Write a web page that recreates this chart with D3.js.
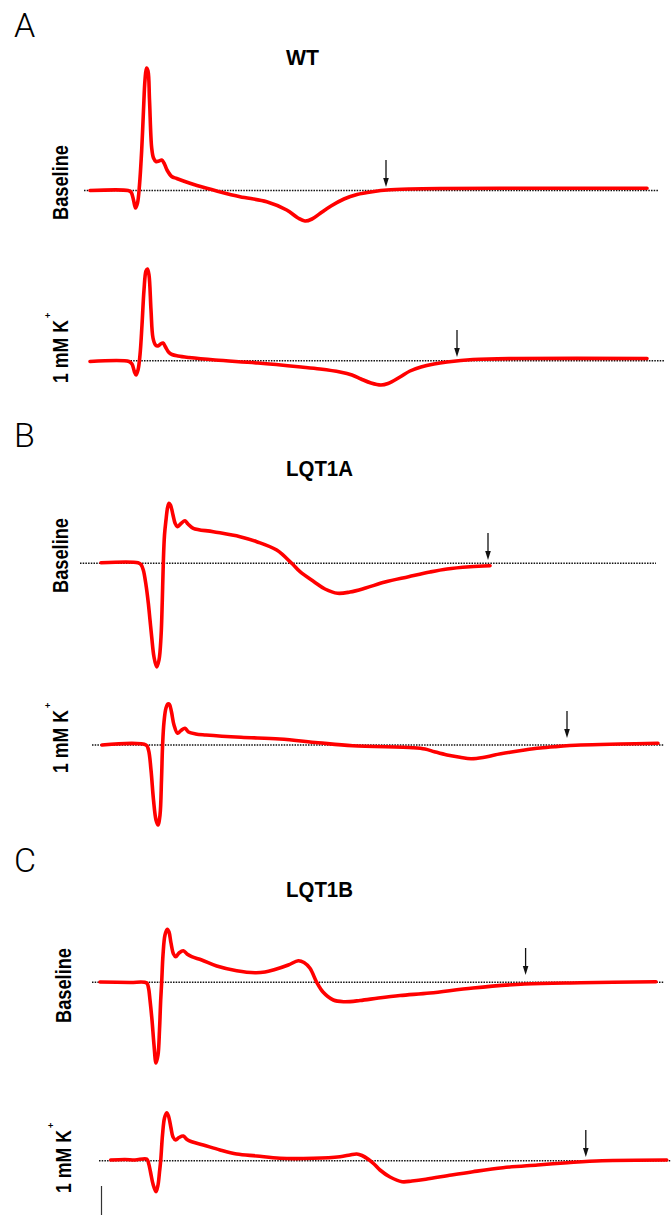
<!DOCTYPE html>
<html>
<head>
<meta charset="utf-8">
<script src="https://cdn.jsdelivr.net/npm/d3@7"></script>
<style>
  body { margin: 0; background: #fff; }
  svg { display: block; }
  .side { font-family: "Liberation Sans", Arial, sans-serif; font-weight: bold; }
  .title { font-family: "Liberation Sans", Arial, sans-serif; font-weight: bold; font-size: 22px; }
  .letter { font-family: Roboto, "Liberation Sans", sans-serif; font-weight: 300; font-size: 34px; }
</style>
</head>
<body>
<div id="chart"></div>
<script>
// traces: [time ms, amplitude mV]
const wtBaseline = [[0,0],[38,0],[41,-0.015],[43.5,-0.095],[45.5,-0.175],[47.5,-0.125],[49.5,0.055],[51.7,0.405],[53.5,0.805],[55,1.105],[56.5,1.225],[58,1.195],[59.5,0.905],[61.7,0.425],[63.5,0.325],[66,0.29],[69,0.295],[71.7,0.305],[74,0.275],[77,0.205],[81.7,0.14],[86.7,0.12],[100,0.072],[116.7,0.022],[126.7,-0.005],[150,-0.062],[176.7,-0.112],[196.7,-0.195],[208,-0.275],[215,-0.305],[222,-0.285],[230,-0.23],[241,-0.155],[254,-0.085],[267,-0.04],[284,-0.01],[297,0.005],[320,0.015],[350,0.02],[410,0.022],[557,0.022]];
const wtK = [[0,-0.008],[39,-0.008],[42,-0.033],[44.5,-0.113],[46,-0.143],[48,-0.093],[50,0.057],[52,0.357],[54,0.707],[56,0.897],[57.5,0.917],[59,0.857],[61,0.507],[63,0.227],[65.5,0.157],[68,0.147],[70.5,0.167],[73,0.177],[75.5,0.137],[78.5,0.087],[82,0.062],[88,0.047],[99,0.032],[125,0.007],[168,-0.023],[211,-0.063],[230,-0.083],[250,-0.113],[262,-0.143],[271,-0.183],[281,-0.223],[291,-0.243],[298,-0.228],[310,-0.163],[320,-0.103],[331,-0.063],[344,-0.033],[357,-0.013],[383,0.012],[426,0.022],[557,0.022]];
const lqt1aBaseline = [[11,0.006],[48,0.006],[51,-0.012],[53.3,-0.067],[56,-0.217],[58.3,-0.397],[60,-0.567],[61.7,-0.737],[64,-0.937],[66.7,-1.037],[69,-0.967],[71,-0.737],[72.3,-0.367],[73.3,0.003],[74.5,0.283],[76,0.433],[77.5,0.553],[79,0.6],[80.5,0.583],[83,0.483],[85,0.403],[87.3,0.366],[91,0.398],[95,0.426],[98,0.393],[103.3,0.35],[123.3,0.316],[150,0.266],[166.7,0.216],[186.7,0.133],[201.7,0],[210,-0.084],[224,-0.184],[235,-0.257],[247.6,-0.3],[260,-0.287],[275.6,-0.247],[295,-0.187],[318.6,-0.134],[340,-0.087],[357,-0.057],[380,-0.035],[400,-0.024]];
const lqt1aK = [[12,0],[56,0],[58.5,-0.05],[61,-0.25],[63.5,-0.55],[66,-0.75],[68,-0.8],[70,-0.7],[71.5,-0.35],[72.6,0],[74,0.23],[76,0.37],[78,0.41],[79.5,0.405],[81.5,0.33],[84,0.2],[87.6,0.117],[91,0.145],[95,0.167],[98.5,0.13],[105.7,0.11],[116,0.1],[151,0.077],[189.6,0.06],[228,0.023],[262.7,-0.007],[323,-0.027],[335,-0.04],[344.4,-0.067],[357,-0.1],[370,-0.123],[381,-0.137],[393,-0.125],[404.6,-0.1],[420,-0.073],[434.7,-0.05],[450,-0.03],[464.8,-0.017],[490.6,0],[530,0.01],[568,0.017]];
const lqt1bBaseline = [[10,0.003],[40,-0.002],[56.7,-0.007],[58.5,-0.057],[60,-0.177],[62,-0.377],[64,-0.627],[66,-0.807],[68,-0.727],[69.5,-0.477],[70.7,-0.177],[71.7,0.003],[73,0.273],[75,0.473],[77.3,0.53],[79,0.503],[81,0.393],[83.5,0.283],[85.7,0.256],[89,0.293],[93.3,0.316],[97,0.283],[101.7,0.256],[111.7,0.223],[126.7,0.163],[146.7,0.116],[165,0.096],[175,0.103],[183.3,0.123],[198.3,0.173],[208.3,0.216],[214,0.198],[220,0.14],[226.7,0],[233,-0.097],[243.3,-0.177],[254,-0.194],[270,-0.182],[288.5,-0.157],[310,-0.132],[340,-0.107],[383,-0.057],[434.7,-0.017],[490.6,-0.004],[566,0.006]];
const lqt1bK = [[20.7,0.007],[35,0.012],[45,0.007],[56.7,0.017],[58.5,-0.023],[60.5,-0.113],[63,-0.233],[66,-0.31],[68,-0.243],[69.5,-0.113],[70.7,0],[72.5,0.257],[74.5,0.427],[76.7,0.48],[78.5,0.447],[81,0.327],[83,0.237],[85.7,0.207],[89,0.232],[93.3,0.247],[97,0.212],[101.7,0.19],[113.3,0.157],[130,0.107],[146.7,0.067],[166.7,0.047],[190,0.024],[223.3,0.024],[250,0.04],[260,0.057],[266.7,0.067],[272,0.052],[278.3,0.014],[284,-0.033],[290,-0.093],[300,-0.163],[312,-0.21],[322,-0.203],[335.8,-0.186],[361.6,-0.143],[383,-0.11],[413,-0.07],[447.6,-0.043],[477.7,-0.02],[512,0],[576.7,0.007]];

const traces = [wtBaseline, wtK, lqt1aBaseline, lqt1aK, lqt1bBaseline, lqt1bK];
const rowLabels = ["Baseline", "1 mM K", "Baseline", "1 mM K", "Baseline", "1 mM K"];
const panelLetters = ["A", "B", "C"];
const panelTitles = ["WT", "LQT1A", "LQT1B"];
// arrow time (ms) and tip amplitude (mV) per trace
const arrowTimes = [296, 367, 398, 477, 435.6, 495.8];
const arrowTips = [0.035, 0.037, 0.033, 0.07, 0.073, 0.037];
// dotted zero line extent (ms)
const zeroSpans = [[-6, 568], [0, 574], [-10, 566], [2, 574], [2, 574], [9, 581]];

// layout
const W = 671, H = 1215;
const rowBase = [190.5, 360.7, 563.3, 745, 982.3, 1160.7];
const labelMid = [182.5, 351.5, 555.5, 741.5, 985.5, 1161.5];
const labelX = [68, 68, 68, 68, 71, 71];
const letterY = [37, 447, 872];
const titleY = [65, 476, 897];

const svg = d3.select("#chart").append("svg")
    .attr("width", W).attr("height", H);
svg.append("rect").attr("width", W).attr("height", H).attr("fill", "#fff");

const x = d3.scaleLinear().domain([0, 580]).range([90, 670]);

traces.forEach((data, i) => {
    const y = d3.scaleLinear().domain([-1, 1]).range([rowBase[i] + 100, rowBase[i] - 100]);
    const g = svg.append("g");

    g.append("line")
        .attr("x1", x(zeroSpans[i][0])).attr("x2", x(zeroSpans[i][1]))
        .attr("y1", y(0)).attr("y2", y(0))
        .attr("stroke", "#111").attr("stroke-width", 1.5)
        .attr("stroke-dasharray", "1.5,1.2");

    const line = d3.line()
        .x(d => x(d[0])).y(d => y(d[1]))
        .curve(d3.curveCatmullRom.alpha(0.5));
    g.append("path")
        .datum(data)
        .attr("d", line)
        .attr("fill", "none")
        .attr("stroke", "#ff0000")
        .attr("stroke-width", 3.6)
        .attr("stroke-linejoin", "round")
        .attr("stroke-linecap", "round");

    // arrow
    const ax = x(arrowTimes[i]), tip = y(arrowTips[i]), tail = y(arrowTips[i] + 0.27);
    g.append("line")
        .attr("x1", ax).attr("x2", ax).attr("y1", tail).attr("y2", tip - 6)
        .attr("stroke", "#111").attr("stroke-width", 1.3);
    g.append("path")
        .attr("d", `M${ax - 2.8},${tip - 9}L${ax + 2.8},${tip - 9}L${ax},${tip}Z`)
        .attr("fill", "#111");

    // side label
    const isK = rowLabels[i] !== "Baseline";
    const len = isK ? 63 : 75;
    g.append("text")
        .attr("class", "side")
        .attr("transform", `translate(${labelX[i]},${labelMid[i]}) rotate(-90)`)
        .attr("text-anchor", "middle")
        .attr("font-size", 22)
        .attr("textLength", len)
        .attr("lengthAdjust", "spacingAndGlyphs")
        .text(rowLabels[i]);
    if (isK) {
        g.append("text")
            .attr("class", "side")
            .attr("transform", `translate(${labelX[i] - 17},${labelMid[i] - len / 2 - 2}) rotate(-90)`)
            .attr("text-anchor", "start")
            .attr("font-size", 9)
            .text("+");
    }
});

panelLetters.forEach((t, i) => {
    svg.append("text").attr("class", "letter")
        .attr("x", 14).attr("y", letterY[i]).text(t);
    svg.append("text").attr("class", "title")
        .attr("x", 286).attr("y", titleY[i])
        .attr("textLength", i === 0 ? 33 : 67)
        .attr("lengthAdjust", "spacingAndGlyphs")
        .text(panelTitles[i]);
});

// vertical scale bar, bottom left
svg.append("line")
    .attr("x1", 101.5).attr("x2", 101.5).attr("y1", 1186).attr("y2", H)
    .attr("stroke", "#333").attr("stroke-width", 1.2);
</script>
</body>
</html>
